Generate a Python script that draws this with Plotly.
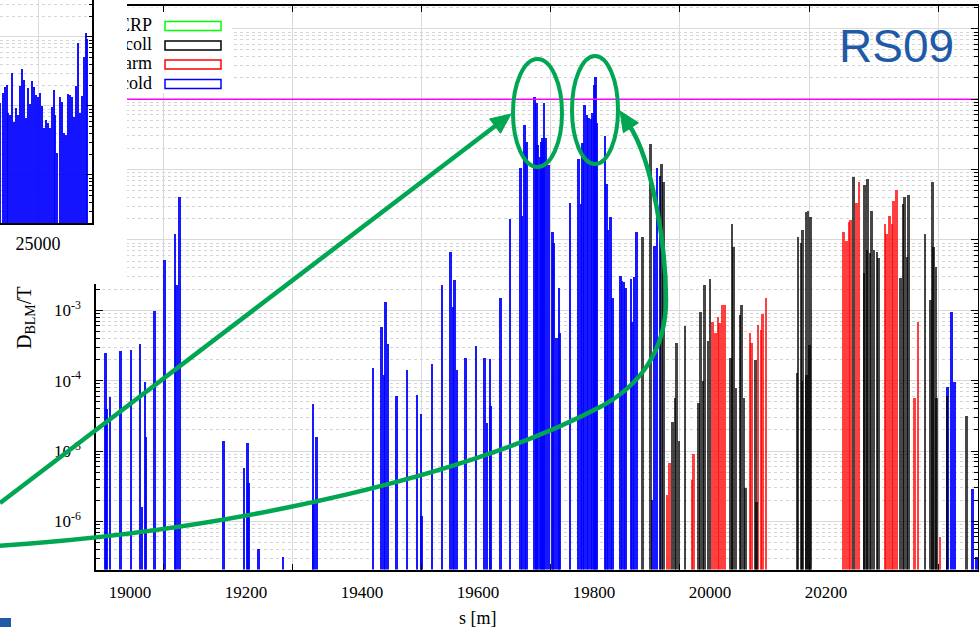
import plotly.graph_objects as go

W, H = 979, 627

# ---------------- data ----------------
cold_s = [18958, 18960, 18966, 18984, 19002, 19018, 19021, 19026, 19028, 19043,
          19060, 19078, 19081, 19086, 19162, 19197, 19203, 19205, 19222, 19264,
          19316, 19317, 19322, 19419, 19434, 19438, 19441, 19445, 19460, 19478,
          19495, 19502, 19503, 19521, 19538, 19553, 19557, 19560, 19564, 19579,
          19597, 19612, 19616, 19621, 19622, 19639, 19656, 19674, 19676, 19681,
          19684, 19698, 19701, 19703, 19707, 19710, 19712, 19714, 19717, 19722,
          19729, 19731, 19736, 19740, 19741, 19759, 19774, 19778, 19781, 19784,
          19788, 19791, 19795, 19798, 19801, 19803, 19806, 19819, 19822, 19825,
          19829, 19832, 19846, 19849, 19852, 19855, 19864, 19867, 19869, 19874,
          19900, 19905, 19909, 19914, 20410, 20417, 20422, 20453, 20460]
cold_v = [2.5e-4, 4.0e-5, 5.8e-5, 2.6e-4, 2.7e-4, 3.3e-4, 1.6e-6, 9.5e-5, 1.6e-5, 9.7e-4,
          5.1e-3, 1.2e-2, 2.3e-3, 4.1e-2, 1.4e-5, 5.7e-6, 1.3e-5, 3.5e-6, 4.0e-7, 3.1e-7,
          4.6e-5, 2.0e-6, 1.6e-5, 1.5e-4, 5.7e-4, 1.2e-4, 1.3e-3, 3.3e-4, 6.0e-5, 1.4e-4,
          6.2e-5, 3.4e-5, 1.2e-6, 1.7e-4, 2.3e-3, 6.7e-3, 1.1e-3, 2.7e-3, 1.4e-4, 2.1e-4,
          3.1e-4, 2.1e-4, 2.5e-5, 2.0e-4, 4.3e-5, 1.5e-3, 2.0e-2, 0.105, 2.2e-2, 0.43,
          0.25, 1.07, 0.88, 0.22, 0.15, 0.245, 0.28, 0.88, 0.28, 0.116,
          1.3e-2, 9.0e-3, 4.1e-4, 2.1e-3, 4.7e-4, 3.3e-2, 0.14, 3.2e-2, 0.24, 0.82,
          0.60, 0.54, 0.52, 0.63, 1.6, 2.06, 0.46, 0.30, 6.2e-2, 1.4e-2,
          2.1e-2, 1.5e-3, 3.1e-3, 2.6e-3, 2.5e-3, 2.1e-3, 2.8e-3, 6.8e-4, 2.95e-3, 1.3e-2,
          2.0e-6, 8.1e-3, 0.105, 8.0e-2, 8.0e-5, 9.4e-4, 9.5e-5, 2.9e-6, 3.1e-7]

coll_s = [19884, 19898, 19917, 19920, 19936, 19940, 19943, 19947, 19957, 19981,
          19984, 19988, 19991, 19997, 20000, 20036, 20038, 20041, 20045, 20052,
          20055, 20059, 20062, 20079, 20081, 20150, 20152, 20157, 20159, 20160,
          20166, 20167, 20169, 20172, 20174, 20248, 20266, 20267, 20271, 20272,
          20276, 20279, 20283, 20288, 20291, 20329, 20333, 20336, 20340, 20343,
          20371, 20381, 20384, 20386, 20390, 20391, 20409, 20443]
coll_v = [1.1e-2, 0.23, 0.12, 6.6e-2, 2.6e-5, 5.6e-5, 3.4e-4, 1.4e-5, 5.9e-4, 4.8e-5,
          9.4e-4, 1.0e-4, 2.3e-3, 3.7e-4, 2.8e-3, 2.1e-4, 1.7e-2, 7.9e-3, 7.8e-5, 8.5e-4,
          1.2e-3, 5.6e-5, 3.0e-6, 1.95e-4, 1.9e-6, 1.3e-4, 1.1e-2, 9.0e-3, 1.0e-4, 1.4e-2,
          2.5e-2, 1.2e-4, 2.6e-2, 3.2e-4, 2.1e-2, 7.8e-2, 3.4e-3, 6.0e-2, 7.1e-3, 7.3e-2,
          6.5e-3, 2.6e-2, 7.1e-3, 6.7e-3, 5.5e-3, 2.9e-3, 3.2e-2, 4.1e-2, 5.7e-3, 4.3e-2,
          1.2e-2, 1.4e-3, 6.6e-2, 7.9e-3, 4.1e-3, 5.6e-5, 6.0e-5, 3.1e-5]

warm_s = [19926, 19931, 19969, 19972, 20005, 20010, 20014, 20017, 20022, 20026,
          20069, 20072, 20083, 20088, 20091, 20097, 20231, 20236, 20240, 20243,
          20253, 20257, 20302, 20305, 20310, 20314, 20317, 20322, 20353, 20359, 20397]
warm_v = [2.4e-6, 6.7e-6, 3.9e-6, 9.0e-6, 6.8e-4, 4.7e-4, 8.0e-4, 6.5e-4, 1.2e-3, 1.2e-3,
          4.7e-4, 3.4e-4, 6.1e-4, 5.2e-4, 8.8e-4, 1.5e-3, 1.3e-2, 9.6e-3, 1.8e-2, 1.9e-2,
          3.3e-2, 6.6e-2, 1.7e-2, 1.2e-2, 2.2e-2, 1.7e-2, 3.6e-2, 5.1e-2, 5.6e-5, 6.8e-4, 5.9e-7]

inset_s = [23835, 23922, 23984, 24045, 24076, 24138, 24199, 24261, 24322, 24384,
           24445, 24507, 24568, 24630, 24691, 24753, 24814, 24876, 24937, 24999,
           25060, 25122, 25183, 25245, 25306, 25368, 25430, 25491, 25522, 25583,
           25676, 25737, 25799, 25860, 25922, 25983, 26045, 26106, 26168, 26229,
           26291, 26352, 26414, 26475, 26506]
inset_v = [0.0110, 0.0154, 0.0188, 0.0201, 0.00792, 0.00741, 0.0301, 0.00586, 0.00935, 0.00741,
           0.0195, 0.0344, 0.0238, 0.00670, 0.0182, 0.0107, 0.0230, 0.0188, 0.0144, 0.0135,
           0.0154, 0.0100, 0.00480, 0.00627, 0.00567, 0.00480, 0.00968, 0.0171, 0.00741, 0.00208,
           0.0135, 0.0114, 0.00406, 0.00380, 0.0149, 0.0144, 0.0135, 0.00693, 0.0195, 0.0818,
           0.00792, 0.0140, 0.0513, 0.114, 0.0935]

main_xticks = [19000, 19200, 19400, 19600, 19800, 20000, 20200]
main_xticktext = ["19000", "19200", "19400", "19600", "19800", "20000", "20200"]
main_yticks = [1e-6, 1e-5, 1e-4, 1e-3, 1e-2, 1e-1, 1, 10]
# labels of the upper decades are hidden behind the inset picture in the reference
main_yticktext = ["10<sup>-6</sup>", "10<sup>-5</sup>", "10<sup>-4</sup>", "10<sup>-3</sup>",
                  "", "", "", ""]
inset_xticks = [25000]
inset_xticktext = ["25000"]
inset_yticks = [1e-4, 1e-3, 1e-2, 1e-1, 1]
quench_level = 1.0
legend_names = ["ERP", "coll", "warm", "cold"]
legend_colors = ["#00ff00", "#000000", "#ff0000", "#0000ff"]

# ---------------- layout helpers ----------------
def fx(x):
    return x / W

def fy(y):
    return 1 - y / H

X0, X1 = 96, 978          # main plot left/right (px)
YT, YB = 6, 569.5         # main plot top/bottom (px)
XR = [18941.4, 20462.1]
YR = [-6.684, 1.324]
GRID_PX = [163, 292.2, 421.4, 550.6, 679.8, 809, 938.2]
minor_main = [m * 10.0 ** e for e in range(-7, 2) for m in range(2, 10)]
minor_inset = [m * 10.0 ** e for e in range(-4, 0) for m in range(2, 10)]
LEG_Y = [26, 45.5, 64.5, 84]

SERIF = "Liberation Serif"
GREEN = "#00a651"

fig = go.Figure()

# main bars
fig.add_trace(go.Bar(x=cold_s, y=cold_v, width=3.4, marker=dict(color="#0000ff", opacity=0.9, line=dict(width=0)),
                     xaxis="x", yaxis="y", hoverinfo="skip"))
fig.add_trace(go.Bar(x=warm_s, y=warm_v, width=3.4, marker=dict(color="#ff0000", opacity=0.75, line=dict(width=0)),
                     xaxis="x", yaxis="y", hoverinfo="skip"))
fig.add_trace(go.Bar(x=coll_s, y=coll_v, width=3.4, marker=dict(color="#000000", opacity=0.72, line=dict(width=0)),
                     xaxis="x", yaxis="y", hoverinfo="skip"))
fig.add_trace(go.Scatter(x=XR, y=[quench_level, quench_level], mode="lines",
                         line=dict(color="#ff00ff", width=1.5), xaxis="x", yaxis="y", hoverinfo="skip"))

# pixel overlay axes: legend box background + labels
fig.add_trace(go.Scatter(x=[127, 232, 232, 127, 127], y=[7.5, 7.5, 93, 93, 7.5], mode="lines", fill="toself",
                         fillcolor="white", line=dict(width=0, color="white"), xaxis="x2", yaxis="y2",
                         hoverinfo="skip"))
fig.add_trace(go.Scatter(x=[152] * 4, y=LEG_Y, mode="text", text=legend_names,
                         textposition="middle left", cliponaxis=False,
                         textfont=dict(family=SERIF, size=18, color="black"),
                         xaxis="x2", yaxis="y2", hoverinfo="skip"))

# cover subplot (white area where the inset picture sits)
fig.add_trace(go.Scatter(x=[0], y=[0], mode="markers", marker=dict(opacity=0), xaxis="x3", yaxis="y3",
                         hoverinfo="skip"))

# inset bars
fig.add_trace(go.Bar(x=inset_s, y=inset_v, width=52, marker=dict(color="#0000ff", opacity=0.92, line=dict(width=0)),
                     xaxis="x4", yaxis="y4", hoverinfo="skip"))

tickfont = dict(family=SERIF, size=17, color="black")

fig.update_layout(
    width=W, height=H, margin=dict(l=0, r=0, t=0, b=0),
    paper_bgcolor="white", plot_bgcolor="white",
    showlegend=False, barmode="overlay", bargap=0,
    xaxis=dict(domain=[fx(X0), fx(X1)], range=XR, anchor="y", tickmode="array", tickvals=main_xticks,
               ticktext=main_xticktext,
               ticks="", showgrid=False, showline=True, mirror=True, linecolor="black", linewidth=1.5,
               tickfont=tickfont, zeroline=False, automargin=False, ticklabelstandoff=6),
    yaxis=dict(domain=[fy(YB), fy(YT)], type="log", range=YR, anchor="x", tickmode="array",
               tickvals=main_yticks, ticktext=main_yticktext, ticks="inside", ticklen=7, tickwidth=1,
               tickcolor="black", showline=True, mirror="allticks", linecolor="black", linewidth=1.5,
               showgrid=True, gridcolor="#d9d9d9", gridwidth=1,
               minor=dict(tickmode="array", tickvals=minor_main, ticks="inside", ticklen=4, tickcolor="black",
                          showgrid=True, gridcolor="#d4d4d4", griddash="dot", gridwidth=1),
               tickfont=tickfont, ticklabelstandoff=10, automargin=False, zeroline=False),
    xaxis2=dict(overlaying="x", range=[X0, X1], anchor="y2", tickmode="array", tickvals=GRID_PX,
                showticklabels=False, ticks="inside", ticklen=6, tickcolor="black", mirror="ticks",
                showline=False, showgrid=True, gridcolor="#d9d9d9", zeroline=False, automargin=False),
    yaxis2=dict(overlaying="y", range=[YB, YT], anchor="x2", visible=False, automargin=False),
    xaxis3=dict(domain=[0, fx(127)], range=[-1, 1], anchor="y3", visible=False, automargin=False),
    yaxis3=dict(domain=[fy(284), 1], range=[-1, 1], anchor="x3", visible=False, automargin=False),
    xaxis4=dict(domain=[0, fx(92)], range=[23830, 26660], anchor="y4", tickmode="array",
                tickvals=inset_xticks, ticktext=inset_xticktext, ticks="", showline=True, linecolor="black",
                linewidth=1.5, showgrid=True, gridcolor="#d9d9d9", zeroline=False,
                tickfont=dict(family=SERIF, size=18, color="black"),
                automargin=False, ticklabelstandoff=4),
    yaxis4=dict(domain=[fy(223), 1], type="log", range=[-3.696, -0.464], anchor="x4", side="right",
                tickmode="array", tickvals=inset_yticks, showticklabels=False, ticks="inside", ticklen=6,
                tickcolor="black", showline=True, linecolor="black", linewidth=1.5,
                showgrid=True, gridcolor="#d9d9d9",
                minor=dict(tickmode="array", tickvals=minor_inset, ticks="inside", ticklen=3, tickcolor="black",
                           showgrid=True, gridcolor="#d6d6d6", griddash="dot"),
                zeroline=False, automargin=False),
)

# legend swatches
for i, c in enumerate(legend_colors):
    yc = LEG_Y[i]
    fig.add_shape(type="rect", xref="paper", yref="paper", x0=fx(165), x1=fx(221), y0=fy(yc + 4.5), y1=fy(yc - 4.5),
                  fillcolor="rgba(0,0,0,0)", line=dict(color=c, width=1.5), layer="above")

# ---------------- slide decorations ----------------
def P(x, y):
    return f"{fx(x):.5f},{fy(y):.5f}"

def head(tip, frm, L=20, hw=9):
    ux, uy = tip[0] - frm[0], tip[1] - frm[1]
    n = (ux ** 2 + uy ** 2) ** 0.5
    ux, uy = ux / n, uy / n
    bx, by = tip[0] - ux * L, tip[1] - uy * L
    nx, ny = -uy, ux
    return ("M" + P(*tip) + " L" + P(bx + nx * hw, by + ny * hw) + " L" + P(bx - nx * hw, by - ny * hw) + " Z",
            (bx + ux * 3, by + uy * 3), (ux, uy))

# ellipses
for (ex0, ex1, ey0, ey1) in [(513, 562, 59, 167), (572, 618, 56, 164)]:
    fig.add_shape(type="circle", xref="paper", yref="paper", x0=fx(ex0), x1=fx(ex1), y0=fy(ey1), y1=fy(ey0),
                  line=dict(color=GREEN, width=4), layer="above")

# straight arrow
tip1 = (511, 114)
hp, base, _ = head(tip1, (0, 503), L=20, hw=9)
fig.add_shape(type="path", xref="paper", yref="paper", path="M" + P(0, 503) + " L" + P(*base),
              line=dict(color=GREEN, width=4.5), layer="above")
fig.add_shape(type="path", xref="paper", yref="paper", path=hp, fillcolor=GREEN, line=dict(color=GREEN, width=1),
              layer="above")

# curved arrow (three cubic segments)
tip2 = (620, 111)
hp2, base2, u2 = head(tip2, (633, 131), L=20, hw=9)
c2 = (base2[0] - u2[0] * 45, base2[1] - u2[1] * 45)
curve_path = ("M" + P(-5, 546)
              + " C" + P(250, 530) + " " + P(480, 470) + " " + P(600, 407)
              + " C" + P(640, 386) + " " + P(666, 350) + " " + P(666, 300)
              + " C" + P(666, 250) + " " + P(*c2) + " " + P(*base2))
fig.add_shape(type="path", xref="paper", yref="paper", path=curve_path,
              line=dict(color=GREEN, width=4.5), layer="above")
fig.add_shape(type="path", xref="paper", yref="paper", path=hp2, fillcolor=GREEN, line=dict(color=GREEN, width=1),
              layer="above")

# small blue slide square
fig.add_shape(type="rect", xref="paper", yref="paper", x0=0, x1=fx(11), y0=0, y1=fy(618),
              fillcolor="#1f5aa6", line=dict(width=0), layer="above")

fig.add_annotation(text="RS09", x=fx(896), y=fy(46), xref="paper", yref="paper", showarrow=False,
                   xanchor="center", yanchor="middle",
                   font=dict(family="Liberation Sans", size=46, color="#1f5aa6"))
fig.add_annotation(text="s [m]", x=fx(478), y=fy(618), xref="paper", yref="paper", showarrow=False,
                   xanchor="center", yanchor="middle", font=dict(family=SERIF, size=18, color="black"))
fig.add_annotation(text="D<sub>BLM</sub>/T", x=fx(25), y=fy(318), xref="paper", yref="paper", showarrow=False,
                   textangle=-90, xanchor="center", yanchor="middle",
                   font=dict(family=SERIF, size=20, color="black"))

fig.write_html("out.html")
